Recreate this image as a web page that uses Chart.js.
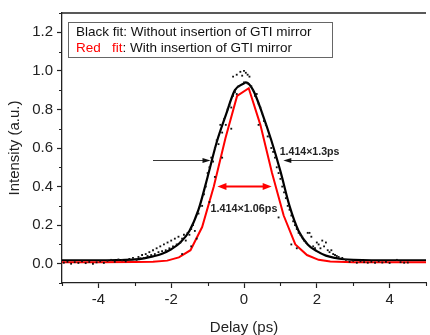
<!DOCTYPE html>
<html><head><meta charset="utf-8">
<script src="https://cdn.jsdelivr.net/npm/chart.js@4/dist/chart.umd.min.js"></script>
<style>html,body{margin:0;padding:0;background:#fff}</style>
</head><body>
<canvas id="c" width="430" height="335"></canvas>
<script>
// ---- data ----
const blackX = [-5, -4, -3.5, -3, -2.75, -2.5, -2.25, -2, -1.75, -1.5, -1.25, -1, -0.75, -0.5, -0.25, 0, 0.05, 0.25, 0.5, 0.75, 1, 1.25, 1.5, 1.75, 2, 2.25, 2.5, 2.75, 3, 3.5, 4, 5];
const blackY = [0.018, 0.018, 0.019, 0.022, 0.028, 0.038, 0.052, 0.075, 0.11, 0.17, 0.28, 0.45, 0.63, 0.77, 0.9, 0.935, 0.94, 0.9, 0.78, 0.64, 0.48, 0.3, 0.17, 0.1, 0.065, 0.042, 0.03, 0.023, 0.02, 0.018, 0.018, 0.018];
const redX = [-5, -4, -3, -2.5, -2.11, -1.79, -1.47, -1.15, -0.83, -0.51, -0.19, 0.13, 0.45, 0.77, 1.09, 1.41, 1.73, 2.05, 2.37, 3, 4, 5];
const redY = [0.008, 0.008, 0.009, 0.01, 0.016, 0.033, 0.07, 0.19, 0.40, 0.65, 0.87, 0.91, 0.72, 0.47, 0.25, 0.10, 0.045, 0.02, 0.011, 0.008, 0.008, 0.008];
const dotX = [-4.95,-4.85,-4.75,-4.65,-4.55,-4.45,-4.35,-4.25,-4.15,-4.05,-3.95,-3.85,-3.75,-3.65,-3.55,-3.45,-3.35,-3.25,-3.15,-3.05,-2.95,-2.9,-2.85,
 -2.8,-2.75,-2.7,-2.65,-2.6,-2.55,-2.5,-2.45,-2.4,-2.35,-2.3,-2.25,-2.2,-2.15,-2.1,-2.05,-2.0,-1.95,-1.9,-1.85,-1.8,-1.75,-1.7,-1.65,-1.6,-1.55,-1.5,-1.45,-1.4,-1.35,
 -1.7,-1.45,-1.3,
 -1.25,-1.2,-1.15,-1.1,-1.05,-1.0,-0.95,-0.95,-0.9,-0.85,-0.8,-0.75,-0.7,-0.65,-0.6,-0.55,-0.5,-0.45,-0.4,-0.35,-0.3,-0.25,-0.2,-0.15,
 -0.35,-0.6,-0.8,
 -0.3,-0.2,-0.1,0.0,0.05,0.1,0.15,-0.05,0.0,0.1,
 0.2,0.25,0.3,0.35,0.4,0.45,0.5,0.55,0.6,0.65,0.7,0.75,0.8,0.85,0.9,0.95,1.0,1.05,1.1,1.15,1.2,1.25,1.3,1.35,1.4,1.45,1.5,1.55,
 0.4,0.95,1.3,1.45,
 1.6,1.65,1.7,1.75,1.8,1.85,1.9,1.95,2.0,2.05,2.1,2.15,2.2,2.25,2.3,2.35,2.4,2.45,2.5,2.55,2.6,2.7,2.8,
 2.9,3.0,3.1,3.2,3.3,3.4,3.5,3.6,3.7,3.8,3.9,4.0,4.2,4.3,4.4,4.5];
const dotY = [0.005,0.01,0.0,0.008,0.004,0.012,0.003,0.009,0.0,0.007,0.012,0.004,0.015,0.02,0.01,0.022,0.018,0.012,0.025,0.03,0.02,0.035,0.028,
 0.045,0.03,0.05,0.04,0.06,0.045,0.07,0.05,0.08,0.06,0.09,0.065,0.1,0.07,0.11,0.08,0.12,0.09,0.13,0.1,0.14,0.11,0.13,0.15,0.12,0.16,0.15,0.18,0.2,0.17,
 0.05,0.09,0.13,
 0.26,0.3,0.3,0.36,0.4,0.47,0.32,0.5,0.55,0.53,0.6,0.64,0.62,0.72,0.68,0.75,0.72,0.8,0.82,0.81,0.87,0.89,0.88,0.92,
 0.7,0.55,0.45,
 0.97,0.98,0.995,1.0,0.99,0.98,0.97,0.975,0.94,0.935,
 0.92,0.9,0.87,0.88,0.83,0.81,0.78,0.74,0.72,0.66,0.66,0.6,0.58,0.55,0.5,0.47,0.44,0.4,0.37,0.34,0.3,0.28,0.25,0.22,0.2,0.18,0.16,0.15,
 0.72,0.24,0.1,0.08,
 0.14,0.12,0.11,0.16,0.16,0.14,0.09,0.08,0.11,0.1,0.08,0.12,0.09,0.11,0.07,0.06,0.07,0.05,0.045,0.04,0.035,0.03,0.02,
 0.01,0.015,0.005,0.012,0.008,0.005,0.01,0.005,0.012,0.006,0.01,0.004,0.02,0.008,0.005,0.006];
const xTicks = [-4, -2, 0, 2, 4];
const yTicks = [0.0, 0.2, 0.4, 0.6, 0.8, 1.0, 1.2];
const xMinor = [-5, -3, -1, 1, 3, 5];
const yMinor = [-0.1, 0.1, 0.3, 0.5, 0.7, 0.9, 1.1, 1.3];
const legendLines = ["Black fit: Without insertion of GTI mirror", "Red   fit", ": With insertion of GTI mirror"];
const widthLabels = ["1.414×1.3ps", "1.414×1.06ps"];

// annotation anchors (data coordinates)
const blackArrows = [{from: -2.5, to: -0.92, y: 0.536}, {from: 2.45, to: 1.08, y: 0.536}];
const redArrow = {from: -0.73, to: 0.76, y: 0.40};
const blackLabelAt = {x: 0.98, y: 0.562};
const redLabelAt = {x: 0.0, y: 0.268};

const FONT = "'Liberation Sans', Arial, sans-serif";
const toPts = (xs, ys) => xs.map((x, i) => ({x, y: ys[i]}));

function head(ctx, tipX, y, dir, len, hw, color) {
  ctx.beginPath();
  ctx.moveTo(tipX, y);
  ctx.lineTo(tipX - dir * len, y - hw);
  ctx.lineTo(tipX - dir * len, y + hw);
  ctx.closePath();
  ctx.fillStyle = color; ctx.fill();
}

const deco = {
  id: 'deco',
  afterDatasetsDraw(chart) {
    const {ctx, chartArea: a, scales: {x, y}} = chart;
    ctx.save();
    // top frame line
    ctx.strokeStyle = '#222'; ctx.lineWidth = 1.3;
    ctx.beginPath(); ctx.moveTo(a.left, a.top); ctx.lineTo(a.right, a.top); ctx.stroke();
    // minor ticks
    ctx.lineWidth = 1.1;
    ctx.beginPath();
    xMinor.forEach(v => { const px = Math.round(x.getPixelForValue(v)) + 0.5; ctx.moveTo(px, a.bottom); ctx.lineTo(px, a.bottom + 3); });
    yMinor.forEach(v => { const py = Math.round(y.getPixelForValue(v)) + 0.5; ctx.moveTo(a.left, py); ctx.lineTo(a.left - 3, py); });
    ctx.stroke();

    // black arrows
    blackArrows.forEach(ar => {
      const x1 = x.getPixelForValue(ar.from), x2 = x.getPixelForValue(ar.to), py = Math.round(y.getPixelForValue(ar.y)) + 0.5;
      const dir = x2 > x1 ? 1 : -1;
      ctx.strokeStyle = '#222'; ctx.lineWidth = 0.9;
      ctx.beginPath(); ctx.moveTo(x1, py); ctx.lineTo(x2 - dir * 6, py); ctx.stroke();
      head(ctx, x2, py, dir, 8, 2.6, '#111');
    });
    // red double arrow
    {
      const x1 = x.getPixelForValue(redArrow.from), x2 = x.getPixelForValue(redArrow.to), py = y.getPixelForValue(redArrow.y);
      ctx.strokeStyle = '#ff0000'; ctx.lineWidth = 2;
      ctx.beginPath(); ctx.moveTo(x1 + 6, py); ctx.lineTo(x2 - 6, py); ctx.stroke();
      head(ctx, x2, py, 1, 9, 3.5, '#ff0000');
      head(ctx, x1, py, -1, 9, 3.5, '#ff0000');
    }
    // width labels
    ctx.fillStyle = '#222'; ctx.textBaseline = 'alphabetic';
    ctx.font = 'bold 10.6px ' + FONT; ctx.textAlign = 'left';
    ctx.fillText(widthLabels[0], x.getPixelForValue(blackLabelAt.x), y.getPixelForValue(blackLabelAt.y));
    ctx.font = 'bold 10.8px ' + FONT; ctx.textAlign = 'center';
    ctx.fillText(widthLabels[1], x.getPixelForValue(redLabelAt.x), y.getPixelForValue(redLabelAt.y));

    // legend box
    ctx.fillStyle = '#fff';
    ctx.fillRect(68.5, 22.5, 264, 35);
    ctx.strokeStyle = '#666'; ctx.lineWidth = 1;
    ctx.strokeRect(68.5, 22.5, 264, 35);
    ctx.font = '13.5px ' + FONT; ctx.textAlign = 'left';
    ctx.fillStyle = '#111';
    ctx.fillText(legendLines[0], 76, 36);
    ctx.fillStyle = '#ff0000';
    ctx.fillText(legendLines[1], 76, 52);
    const w = ctx.measureText(legendLines[1]).width;
    ctx.fillStyle = '#111';
    ctx.fillText(legendLines[2], 76 + w, 52);
    ctx.restore();
  }
};

new Chart(document.getElementById('c'), {
  type: 'scatter',
  data: {
    datasets: [
      {data: toPts(dotX, dotY), pointStyle: 'rect', pointRadius: 1.3, backgroundColor: '#111', borderWidth: 0, showLine: false},
      {data: toPts(redX, redY), showLine: true, borderColor: '#ff0000', borderWidth: 2, pointRadius: 0, tension: 0},
      {data: toPts(blackX, blackY), showLine: true, borderColor: '#000', borderWidth: 2.2, pointRadius: 0, cubicInterpolationMode: 'monotone'}
    ]
  },
  options: {
    responsive: false, animation: false, devicePixelRatio: 1,
    layout: {padding: {top: 11, right: 0, left: 0, bottom: 0}},
    plugins: {legend: {display: false}, tooltip: {enabled: false}},
    scales: {
      x: {
        type: 'linear', min: -5, max: 5,
        afterBuildTicks: s => { s.ticks = xTicks.map(v => ({value: v})); },
        afterFit: s => { s.height = 52; },
        ticks: {font: {family: FONT, size: 15}, color: '#222', padding: 3, maxRotation: 0, callback: v => String(v)},
        grid: {drawOnChartArea: false, drawTicks: true, tickLength: 5, tickColor: '#222', tickWidth: 1.2},
        border: {display: true, color: '#222', width: 1.3},
        title: {display: true, text: 'Delay (ps)', font: {family: FONT, size: 15, lineHeight: 1}, color: '#222', padding: 0}
      },
      y: {
        type: 'linear', min: -0.1, max: 1.3,
        afterBuildTicks: s => { s.ticks = yTicks.map(v => ({value: v})); },
        afterFit: s => { s.width = 62; },
        ticks: {font: {family: FONT, size: 15}, color: '#222', padding: 4, callback: v => v.toFixed(1)},
        grid: {drawOnChartArea: false, drawTicks: true, tickLength: 5, tickColor: '#222', tickWidth: 1.2},
        border: {display: true, color: '#222', width: 1.3},
        title: {display: true, text: 'Intensity (a.u.)', font: {family: FONT, size: 15}, color: '#222', padding: {top: 6, bottom: 0}}
      }
    }
  },
  plugins: [deco]
});
</script>
</body></html>
